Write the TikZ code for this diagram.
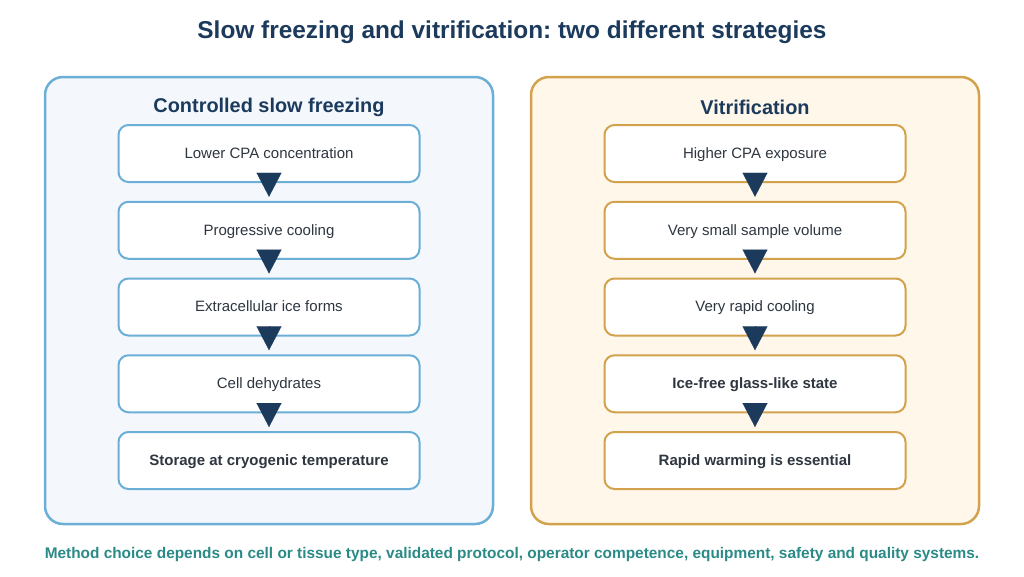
\documentclass[tikz,border=0pt]{standalone}
\usepackage{fontspec}
\setmainfont{Liberation Sans}
\usetikzlibrary{arrows.meta}
\usetikzlibrary{positioning}
\definecolor{navy}{HTML}{1B3A5C}
\definecolor{boxtext}{HTML}{2E3640}
\definecolor{slowedge}{HTML}{6BAED6}
\definecolor{slowfill}{HTML}{F4F8FC}
\definecolor{vitredge}{HTML}{D2A24C}
\definecolor{vitrfill}{HTML}{FFF7EA}
\definecolor{noteteal}{HTML}{2A8A86}
\newcommand\fsz[1]{\fontsize{#1}{#1}\selectfont}
\newcommand\boxgap{17.75pt}
\frenchspacing

\begin{document}
\begin{tikzpicture}[x=1pt,y=-1pt,
    panel/.style={draw,line width=2.5pt,rounded corners=18pt,
      minimum width=448pt,minimum height=447pt,inner sep=0pt},
    paneltitle/.style={font=\fsz{19.9}\bfseries,text=navy},
    stepbox/.style={draw,fill=white,line width=2pt,rounded corners=10pt,
      minimum width=301pt,minimum height=57pt,inner sep=0pt,
      text=boxtext,font=\fsz{15},text depth=1pt},
    arr/.style={-{Triangle[width=25pt,length=24pt]},navy,line width=0.2pt,
      shorten <=-8pt,shorten >=4pt},
    node distance=\boxgap
  ]
    \useasboundingbox (0,0) rectangle (1024,576);

    \node[font=\fsz{24.4}\bfseries,text=navy] (title) at (512,32)
      {Slow freezing and vitrification: two different strategies};

    % slow freezing column
    \node[panel,draw=slowedge,fill=slowfill] (slow) at (269,300.5) {};
    \node[paneltitle] (slowtitle) at (269,107) {Controlled slow freezing};

    \begin{scope}[every node/.append style={stepbox,draw=slowedge}]
      \node (s1) at (269,153.5) {Lower CPA concentration};
      \node[below=of s1] (s2) {Progressive cooling};
      \node[below=of s2] (s3) {Extracellular ice forms};
      \node[below=of s3] (s4) {Cell dehydrates};
      \node[below=of s4,font=\fsz{15}\bfseries] (s5) {Storage at cryogenic temperature};
    \end{scope}

    \draw[arr] (s1.south) -- (s2.north);
    \draw[arr] (s2.south) -- (s3.north);
    \draw[arr] (s3.south) -- (s4.north);
    \draw[arr] (s4.south) -- (s5.north);

    % vitrification column
    \node[panel,draw=vitredge,fill=vitrfill] (vitr) at (755,300.5) {};
    \node[paneltitle] (vitrtitle) at (755,107) {Vitrification};

    \begin{scope}[every node/.append style={stepbox,draw=vitredge}]
      \node (v1) at (755,153.5) {Higher CPA exposure};
      \node[below=of v1] (v2) {Very small sample volume};
      \node[below=of v2] (v3) {Very rapid cooling};
      \node[below=of v3,font=\fsz{15}\bfseries] (v4) {Ice-free glass-like state};
      \node[below=of v4,font=\fsz{15}\bfseries] (v5) {Rapid warming is essential};
    \end{scope}

    \draw[arr] (v1.south) -- (v2.north);
    \draw[arr] (v2.south) -- (v3.north);
    \draw[arr] (v3.south) -- (v4.north);
    \draw[arr] (v4.south) -- (v5.north);

    \node[font=\fsz{15.4}\bfseries,text=noteteal] (note) at (512,555)
      {Method choice depends on cell or tissue type, validated protocol, operator competence, equipment, safety and quality systems.};
  \end{tikzpicture}
\end{document}
